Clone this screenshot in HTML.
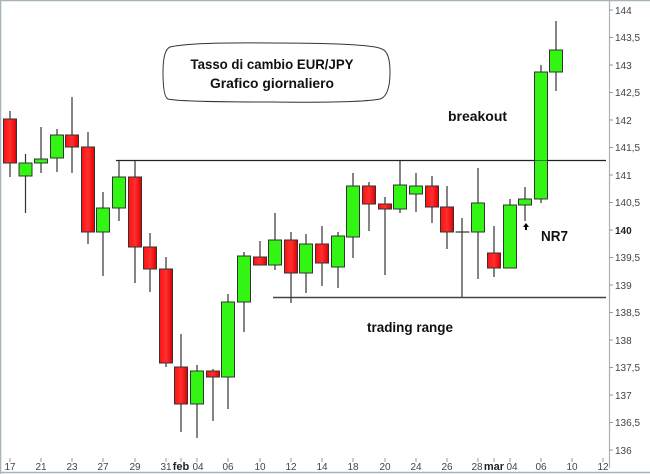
<!DOCTYPE html>
<html><head><meta charset="utf-8"><style>
html,body{margin:0;padding:0;background:#fff;}
svg{display:block;font-family:"Liberation Sans",Arial,sans-serif;}
.w{stroke:#333;stroke-width:1.2;}
.r{fill:url(#gr);stroke:#333;stroke-width:1;}
.g{fill:#33f514;stroke:#333;stroke-width:1;}
.t{font-size:10px;fill:#444;}
.y{font-size:10px;fill:#444;}
.b{font-weight:bold;font-size:14px;fill:#111;}
</style></head><body>
<svg width="650" height="474" viewBox="0 0 650 474">
<defs><linearGradient id="gr" x1="0" x2="1"><stop offset="0" stop-color="#ff1010"/><stop offset="0.5" stop-color="#ff3030"/><stop offset="1" stop-color="#e00000"/></linearGradient></defs>
<rect x="0" y="0" width="650" height="474" fill="#fff"/>
<line x1="0.5" y1="0" x2="0.5" y2="474" stroke="#a8b4bc" stroke-width="1.5"/>
<line x1="0" y1="0.5" x2="650" y2="0.5" stroke="#a8b4bc" stroke-width="1.5"/>
<line x1="0" y1="472.5" x2="650" y2="472.5" stroke="#a8b4bc" stroke-width="1.5"/>
<line x1="609.5" y1="0" x2="609.5" y2="468" stroke="#a8b4bc" stroke-width="1.2"/>
<!-- y ticks -->
<g class="y">
<line x1="609" y1="10" x2="613" y2="10" stroke="#999"/><text x="615" y="14">144</text>
<line x1="609" y1="37.5" x2="613" y2="37.5" stroke="#999"/><text x="615" y="41">143,5</text>
<line x1="609" y1="65" x2="613" y2="65" stroke="#999"/><text x="615" y="69">143</text>
<line x1="609" y1="92.5" x2="613" y2="92.5" stroke="#999"/><text x="615" y="96">142,5</text>
<line x1="609" y1="120" x2="613" y2="120" stroke="#999"/><text x="615" y="124">142</text>
<line x1="609" y1="147.5" x2="613" y2="147.5" stroke="#999"/><text x="615" y="151">141,5</text>
<line x1="609" y1="175" x2="613" y2="175" stroke="#999"/><text x="615" y="179">141</text>
<line x1="609" y1="202.5" x2="613" y2="202.5" stroke="#999"/><text x="615" y="206">140,5</text>
<line x1="609" y1="230" x2="613" y2="230" stroke="#999"/><text x="615" y="234" style="font-weight:bold;fill:#222">140</text>
<line x1="609" y1="257.5" x2="613" y2="257.5" stroke="#999"/><text x="615" y="261">139,5</text>
<line x1="609" y1="285" x2="613" y2="285" stroke="#999"/><text x="615" y="289">139</text>
<line x1="609" y1="312.5" x2="613" y2="312.5" stroke="#999"/><text x="615" y="316">138,5</text>
<line x1="609" y1="340" x2="613" y2="340" stroke="#999"/><text x="615" y="344">138</text>
<line x1="609" y1="367.5" x2="613" y2="367.5" stroke="#999"/><text x="615" y="371">137,5</text>
<line x1="609" y1="395" x2="613" y2="395" stroke="#999"/><text x="615" y="399">137</text>
<line x1="609" y1="422.5" x2="613" y2="422.5" stroke="#999"/><text x="615" y="426">136,5</text>
<line x1="609" y1="450" x2="613" y2="450" stroke="#999"/><text x="615" y="454">136</text>
</g>
<!-- x ticks -->
<g class="t" text-anchor="middle" stroke="none">
<g stroke="#999"><line x1="10" y1="458" x2="10" y2="462"/><line x1="41" y1="458" x2="41" y2="462"/><line x1="72" y1="458" x2="72" y2="462"/><line x1="103" y1="458" x2="103" y2="462"/><line x1="135" y1="458" x2="135" y2="462"/><line x1="166" y1="458" x2="166" y2="462"/><line x1="181" y1="458" x2="181" y2="462"/><line x1="197" y1="458" x2="197" y2="462"/><line x1="228" y1="458" x2="228" y2="462"/><line x1="260" y1="458" x2="260" y2="462"/><line x1="291" y1="458" x2="291" y2="462"/><line x1="322" y1="458" x2="322" y2="462"/><line x1="353" y1="458" x2="353" y2="462"/><line x1="385" y1="458" x2="385" y2="462"/><line x1="416" y1="458" x2="416" y2="462"/><line x1="447" y1="458" x2="447" y2="462"/><line x1="478" y1="458" x2="478" y2="462"/><line x1="494" y1="458" x2="494" y2="462"/><line x1="510" y1="458" x2="510" y2="462"/><line x1="541" y1="458" x2="541" y2="462"/><line x1="572" y1="458" x2="572" y2="462"/><line x1="603" y1="458" x2="603" y2="462"/></g>
<text x="10" y="470">17</text><text x="41" y="470">21</text><text x="72" y="470">23</text><text x="103" y="470">27</text><text x="135" y="470">29</text><text x="166" y="470">31</text><text x="181" y="470" style="font-weight:bold;font-size:11px;fill:#222">feb</text><text x="198" y="470">04</text><text x="228" y="470">06</text><text x="260" y="470">10</text><text x="291" y="470">12</text><text x="322" y="470">14</text><text x="353" y="470">18</text><text x="385" y="470">20</text><text x="416" y="470">24</text><text x="447" y="470">26</text><text x="477" y="470">28</text><text x="494" y="470" style="font-weight:bold;font-size:11px;fill:#222">mar</text><text x="512" y="470">04</text><text x="541" y="470">06</text><text x="572" y="470">10</text><text x="603" y="470">12</text>
</g>
<!-- lines -->
<line x1="116" y1="160.5" x2="606" y2="160.5" stroke="#222" stroke-width="1.2"/>
<line x1="273" y1="297.5" x2="606" y2="297.5" stroke="#444" stroke-width="1.4"/>
<!-- candles -->
<g>
<line class="w" x1="10" y1="111" x2="10" y2="177"/><rect class="r" x="3.5" y="119" width="13" height="44"/>
<line class="w" x1="25.5" y1="154" x2="25.5" y2="213"/><rect class="g" x="19" y="163" width="13" height="13"/>
<line class="w" x1="41" y1="127" x2="41" y2="173"/><rect class="g" x="34.5" y="159" width="13" height="4"/>
<line class="w" x1="57" y1="129" x2="57" y2="172"/><rect class="g" x="50.5" y="135" width="13" height="23"/>
<line class="w" x1="72" y1="97" x2="72" y2="173"/><rect class="r" x="65.5" y="135" width="13" height="12"/>
<line class="w" x1="88" y1="132" x2="88" y2="244"/><rect class="r" x="81.5" y="147" width="13" height="85"/>
<line class="w" x1="103" y1="192" x2="103" y2="276"/><rect class="g" x="96.5" y="208" width="13" height="24"/>
<line class="w" x1="119" y1="160" x2="119" y2="221"/><rect class="g" x="112.5" y="177" width="13" height="31"/>
<line class="w" x1="135" y1="160" x2="135" y2="283"/><rect class="r" x="128.5" y="177" width="13" height="70"/>
<line class="w" x1="150" y1="233" x2="150" y2="292"/><rect class="r" x="143.5" y="247" width="13" height="22"/>
<line class="w" x1="166" y1="257" x2="166" y2="367"/><rect class="r" x="159.5" y="269" width="13" height="94"/>
<line class="w" x1="181" y1="334" x2="181" y2="432"/><rect class="r" x="174.5" y="367" width="13" height="37"/>
<line class="w" x1="197" y1="365" x2="197" y2="438"/><rect class="g" x="190.5" y="371" width="13" height="33"/>
<line class="w" x1="213" y1="369" x2="213" y2="421"/><rect class="r" x="206.5" y="371" width="13" height="6"/>
<line class="w" x1="228" y1="294" x2="228" y2="409"/><rect class="g" x="221.5" y="302" width="13" height="75"/>
<line class="w" x1="244" y1="252" x2="244" y2="332"/><rect class="g" x="237.5" y="256" width="13" height="46"/>
<line class="w" x1="260" y1="241" x2="260" y2="265"/><rect class="r" x="253.5" y="257" width="13" height="8"/>
<line class="w" x1="275" y1="213" x2="275" y2="270"/><rect class="g" x="268.5" y="240" width="13" height="25"/>
<line class="w" x1="291" y1="232" x2="291" y2="303"/><rect class="r" x="284.5" y="240" width="13" height="33"/>
<line class="w" x1="306" y1="234" x2="306" y2="293"/><rect class="g" x="299.5" y="244" width="13" height="29"/>
<line class="w" x1="322" y1="226" x2="322" y2="286"/><rect class="r" x="315.5" y="244" width="13" height="19"/>
<line class="w" x1="338" y1="232" x2="338" y2="288"/><rect class="g" x="331.5" y="236" width="13" height="31"/>
<line class="w" x1="353" y1="173" x2="353" y2="258"/><rect class="g" x="346.5" y="186" width="13" height="51"/>
<line class="w" x1="369" y1="182" x2="369" y2="231"/><rect class="r" x="362.5" y="186" width="13" height="18"/>
<line class="w" x1="385" y1="197" x2="385" y2="275"/><rect class="r" x="378.5" y="204" width="13" height="5"/>
<line class="w" x1="400" y1="161" x2="400" y2="213"/><rect class="g" x="393.5" y="185" width="13" height="24"/>
<line class="w" x1="416" y1="173" x2="416" y2="212"/><rect class="g" x="409.5" y="186" width="13" height="8"/>
<line class="w" x1="432" y1="176" x2="432" y2="223"/><rect class="r" x="425.5" y="186" width="13" height="21"/>
<line class="w" x1="447" y1="186" x2="447" y2="249"/><rect class="r" x="440.5" y="207" width="13" height="25"/>
<line class="w" x1="462" y1="218" x2="462" y2="297"/><line class="w" x1="455.5" y1="232" x2="469.5" y2="232"/>
<line class="w" x1="478" y1="168" x2="478" y2="279"/><rect class="g" x="471.5" y="203" width="13" height="29"/>
<line class="w" x1="494" y1="226" x2="494" y2="277"/><rect class="r" x="487.5" y="253" width="13" height="15"/>
<line class="w" x1="510" y1="199" x2="510" y2="268"/><rect class="g" x="503.5" y="205" width="13" height="63"/>
<line class="w" x1="525" y1="187" x2="525" y2="221"/><rect class="g" x="518.5" y="199" width="13" height="6"/>
<line class="w" x1="541" y1="65" x2="541" y2="203"/><rect class="g" x="534.5" y="72" width="13" height="127"/>
<line class="w" x1="556" y1="21" x2="556" y2="91"/><rect class="g" x="549.5" y="50" width="13" height="22"/>
</g>
<line x1="116" y1="160.5" x2="606" y2="160.5" stroke="#222" stroke-width="1" opacity="0.6"/>
<!-- arrow -->
<polygon points="526,223 523,227 525,227 525,230 527,230 527,227 529,227" fill="#000"/>
<!-- title box -->
<path d="M170,47 Q190,42 272,43 Q370,43 382,49 Q390,52 390,72 Q390,96 380,99 Q360,103 272,102 Q180,102 168,99 Q163,97 163,72 Q163,50 170,47 Z" fill="#fff" stroke="#333" stroke-width="1"/>
<text class="b" x="272" y="69" text-anchor="middle" textLength="163" lengthAdjust="spacingAndGlyphs">Tasso di cambio EUR/JPY</text>
<text class="b" x="272" y="88" text-anchor="middle" textLength="124" lengthAdjust="spacingAndGlyphs">Grafico giornaliero</text>
<text class="b" x="448" y="121" textLength="59" lengthAdjust="spacingAndGlyphs">breakout</text>
<text class="b" x="541" y="241" style="font-size:15px" textLength="27" lengthAdjust="spacingAndGlyphs">NR7</text>
<text class="b" x="367" y="332" textLength="86" lengthAdjust="spacingAndGlyphs">trading range</text>
</svg>
</body></html>
